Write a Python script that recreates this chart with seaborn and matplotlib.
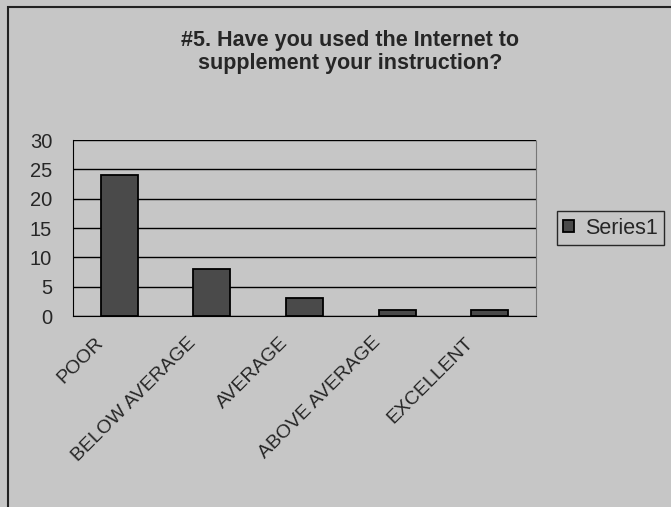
import pandas as pd
import matplotlib.pyplot as plt
import matplotlib.transforms as mtransforms
import seaborn as sns
import numpy as np

# Survey answers
categories = ['POOR', 'BELOW AVERAGE', 'AVERAGE', 'ABOVE AVERAGE', 'EXCELLENT']
counts = [24, 8, 3, 1, 1]
series_name = 'Series1'

df = pd.DataFrame({'rating': categories, 'count': counts})

sns.set_style('white')
plt.rcParams['font.family'] = ['Liberation Sans', 'DejaVu Sans']

bg = '#c6c6c6'
fig = plt.figure(figsize=(6.71, 5.07), dpi=100, facecolor=bg)
ax = fig.add_axes([73 / 671, 1 - 316 / 507, 463 / 671, 176 / 507])
ax.set_facecolor(bg)

sns.barplot(data=df, x='rating', y='count', color='#4a4a4a', edgecolor='black',
            linewidth=1.3, width=0.4, saturation=1, label=series_name, ax=ax)

ax.set_ylim(0, 30)
ax.set_xlim(-0.5, 4.5)
ax.set_yticks(np.arange(0, 31, 5))
ax.yaxis.grid(True, color='black', linewidth=1)
ax.set_axisbelow(True)
ax.set_xlabel('')
ax.set_ylabel('')

# category separators as ticks, like Excel
ax.set_xticks(np.arange(-0.5, 5, 1), minor=True)
ax.tick_params(axis='x', which='minor', length=5, width=1, color='black', direction='out')
ax.tick_params(axis='x', which='major', length=0, pad=13)
ax.tick_params(axis='y', length=7, width=1, color='black', direction='out', labelsize=14.5, pad=8)
ax.set_xticks(range(len(categories)))
ax.set_xticklabels(categories, rotation=45, ha='right', rotation_mode='anchor', fontsize=14)
shift = mtransforms.ScaledTranslation(-25 / 100, 0, fig.dpi_scale_trans)
for lab in ax.get_xticklabels():
    lab.set_transform(lab.get_transform() + shift)

ax.spines['top'].set_visible(False)
ax.spines['left'].set_color('black')
ax.spines['bottom'].set_color('black')
ax.spines['right'].set_color('#777777')
ax.spines['right'].set_linestyle((0, (2, 1)))

fig.text(350 / 671, 1 - 52 / 507, '#5. Have you used the Internet to\nsupplement your instruction?',
         ha='center', va='center', fontsize=15.5, fontweight='bold', linespacing=1.15)

leg = ax.legend(loc='center left', bbox_to_anchor=(557 / 671, 1 - 228 / 507),
                bbox_transform=fig.transFigure, frameon=True, fancybox=False,
                fontsize=15.5, handlelength=0.5, handleheight=0.5, handletextpad=0.5,
                borderpad=0.3, borderaxespad=0)
leg.get_frame().set_edgecolor('black')
leg.get_frame().set_facecolor(bg)
leg.get_frame().set_linewidth(1)

# outer border of the chart (only top and left edges show in the scan)
fig.patches.append(plt.Rectangle((8 / 671, -0.05), 1.1, 1 - 7 / 507 + 0.05, transform=fig.transFigure,
                                 fill=False, edgecolor='#222222', linewidth=1.5))

fig.savefig('out.png', dpi=100, facecolor=bg)
